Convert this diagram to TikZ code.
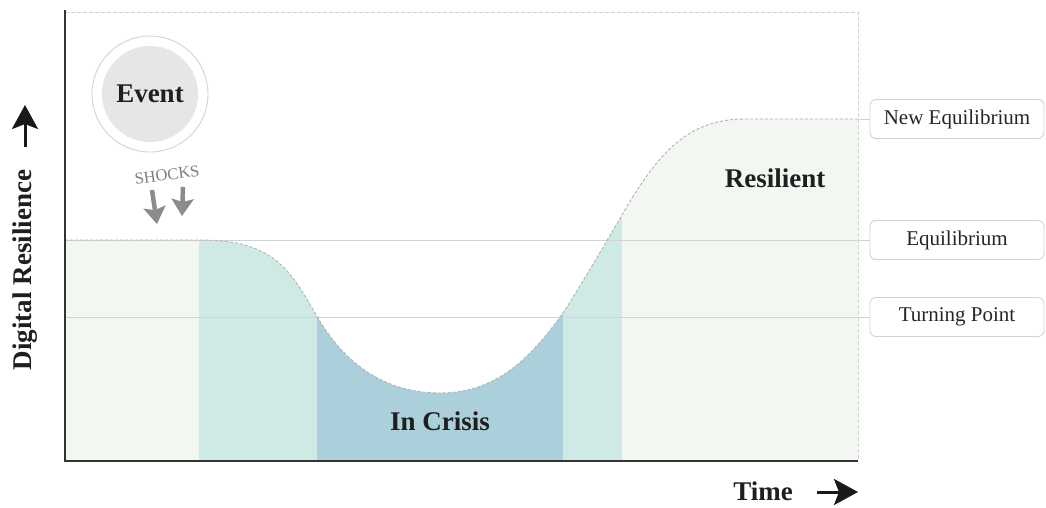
\documentclass[tikz,border=0pt]{standalone}
\usepackage{fontspec}
\setmainfont{Liberation Serif}
\usetikzlibrary{arrows.meta}
\definecolor{calmgreen}{HTML}{F2F7F2}
\definecolor{paleteal}{HTML}{CFE9E5}
\definecolor{crisisblue}{HTML}{ABD0DC}
\definecolor{guide}{HTML}{D2D2D2}
\definecolor{axisdark}{HTML}{333333}
\definecolor{shockgray}{HTML}{8C8C8C}
\definecolor{eventfill}{HTML}{E6E6E8}
\tikzset{
  levelbox/.style={draw=guide, line width=0.9pt, rounded corners=6pt, fill=white,
    minimum width=174pt, minimum height=39pt, font=\fontsize{21}{24}\selectfont, text=black!85},
  guideline/.style={draw=guide, line width=0.9pt},
  boldlabel/.style={font=\fontsize{27}{30}\selectfont\bfseries, text=black!88},
  axisarrow/.style={line width=3pt, black!90, -{Stealth[length=24pt, width=26pt, inset=5pt]}},
  shockarrow/.style={line width=4.5pt, shockgray, -{Stealth[length=17pt, width=22pt, inset=3pt]}},
}
\def\curvepath{(65,240) -- (200,240) .. controls (275,240) and (290,270) .. (318,318)
  .. controls (345,364) and (385,393) .. (440,393)
  .. controls (495,393) and (530,360) .. (565,310)
  .. controls (595,262) and (610,235) .. (625,210)
  .. controls (660,150) and (690,119) .. (745,119) -- (858,119)}
\begin{document}
\begin{tikzpicture}[x=1pt, y=-1pt]
\useasboundingbox (0,0) rectangle (1046,508);
\fill[white] (0,0) rectangle (1046,508);

% phase bands under the resilience curve
\begin{scope}
  \clip \curvepath -- (858,461) -- (65,461) -- cycle;
  \fill[calmgreen] (65,0) rectangle (199,461);
  \fill[paleteal] (199,0) rectangle (317,461);
  \fill[crisisblue] (317,0) rectangle (563,461);
  \fill[paleteal] (563,0) rectangle (622,461);
  \fill[calmgreen] (622,0) rectangle (858,461);
\end{scope}

% level boxes
\node[levelbox] (neweq) at (957,119) {New Equilibrium};
\node[levelbox] (eq) at (957,240) {Equilibrium};
\node[levelbox] (turn) at (957,317) {Turning Point};

% guide lines to the level boxes
\coordinate (eqstart) at (65,240);
\coordinate (turnstart) at (65,317);
\coordinate (newstart) at (858,119);
\draw[guideline] (eqstart) -- (eq.west);
\draw[guideline] (turnstart) -- (turn.west);
\draw[guideline] (newstart) -- (neweq.west);

% resilience curve
\draw[guide!85!black, line width=0.9pt, dash pattern=on 3pt off 2pt] \curvepath;

% frame
\coordinate (tl) at (65,12);
\coordinate (tr) at (858,12);
\coordinate (br) at (858,461);
\coordinate (bl) at (65,461);
\coordinate (top) at (65,10);
\draw[guide, line width=0.9pt, dash pattern=on 4pt off 2pt] (tl) -- (tr) -- (br);
\draw[axisdark, line width=2pt] (top) -- (bl) -- (br);

% event
\node[circle, draw=guide, line width=0.9pt, fill=white, minimum size=116pt] (eventring) at (150,94) {};
\node[circle, fill=eventfill, minimum size=96pt, boldlabel] (event) at (eventring.center) {Event};

% shocks
\node[rotate=8, font=\fontsize{16.5}{18}\selectfont, text=shockgray!90!black, inner sep=1pt] (shocks) at (167,175) {SHOCKS};
\coordinate (s1a) at (152,190);
\coordinate (s1b) at (157,224);
\coordinate (s2a) at (183,187);
\coordinate (s2b) at (182,216);
\draw[shockarrow] (s1a) -- (s1b);
\draw[shockarrow] (s2a) -- (s2b);

% phase labels
\node[boldlabel] (resilient) at (775,178) {Resilient};
\node[boldlabel] (crisis) at (440,421) {In Crisis};

% axis labels
\node[boldlabel] (time) at (763,491) {Time};
\coordinate (ta) at (817,492);
\coordinate (tb) at (858,492);
\draw[axisarrow] (ta) -- (tb);
\node[boldlabel, rotate=90] (resil) at (25,270) {Digital Resilience};
\coordinate (ra) at (25,147);
\coordinate (rb) at (25,105);
\draw[axisarrow] (ra) -- (rb);
\end{tikzpicture}
\end{document}
